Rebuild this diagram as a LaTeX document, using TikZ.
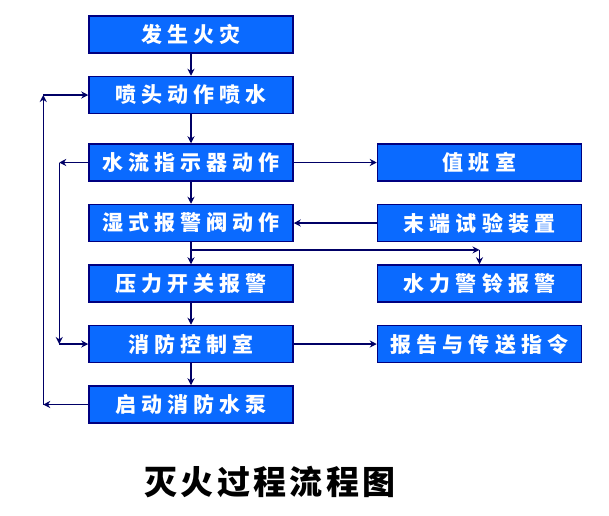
\documentclass[tikz,border=0pt]{standalone}
\usepackage{fontspec}
\setmainfont{Noto Sans CJK SC}
\newfontfamily\boxfont[LetterSpace=24]{Noto Sans CJK SC}
\newfontfamily\titlefont[LetterSpace=10]{Noto Sans CJK SC}
\usetikzlibrary{arrows.meta,positioning,calc}
\definecolor{boxblue}{HTML}{0A6AFF}
\definecolor{boxline}{HTML}{000080}
\definecolor{arrnavy}{HTML}{000066}

\begin{document}
\begin{tikzpicture}[x=1pt, y=-1pt,
  node distance=22pt and 83pt,
  box/.style={draw=boxline, line width=1.5pt, fill=boxblue, minimum width=204pt, minimum height=37pt, inner sep=0pt, text=white, font=\boxfont\bfseries\fontsize{21}{24}\selectfont},
  arr/.style={-{Stealth[length=7pt,width=7pt]}, line width=1.2pt, draw=arrnavy},
]
  \useasboundingbox (0,0) rectangle (609,515);

  % main chain
  \node[box] (fire) at (191,34.5) {发生火灾};
  \node[box, below=of fire] (spray) {喷头动作喷水};
  \node[box, below=29pt of spray] (flow) {水流指示器动作};
  \node[box, below=of flow] (valve) {湿式报警阀动作};
  \node[box, below=of valve] (press) {压力开关报警};
  \node[box, below=of press] (ctrl) {消防控制室};
  \node[box, below=of ctrl] (pump) {启动消防水泵};

  % right column
  \node[box, right=of flow] (duty) {值班室};
  \node[box, right=of valve] (test) {末端试验装置};
  \node[box, right=of press] (bell) {水力警铃报警};
  \node[box, right=of ctrl] (report) {报告与传送指令};

  \node[font=\titlefont\bfseries\fontsize{33}{36}\selectfont] (title) at (270,482) {灭火过程流程图};

  \draw[arr] (fire) -- (spray);
  \draw[arr] (spray) -- (flow);
  \draw[arr] (flow) -- (valve);
  \draw[arr] (valve) -- (press);
  \draw[arr] (press) -- (ctrl);
  \draw[arr] (ctrl) -- (pump);

  \draw[arr] (flow) -- (duty);
  \draw[arr] (test) -- (valve);
  \draw[arr] (ctrl) -- (report);

  % branch to the bell
  \coordinate (j) at ($(valve.south)!0.35!(press.north)$);
  \coordinate (k) at (j -| bell.north);
  \draw[arr] (j) -- (k);
  \draw[arr] (k) -- (bell);

  % loops on the left
  \coordinate (ob) at ($(pump.west)+(-45,0)$);
  \coordinate (ot) at (ob |- spray.west);
  \draw[arr] (pump.west) -- (ob);
  \draw[arr] (ob) -- (ot);
  \draw[arr] (ot) -- (spray.west);

  \coordinate (ia) at ($(flow.west)+(-29,0)$);
  \coordinate (ic) at (ia |- ctrl.west);
  \draw[arr] (flow.west) -- (ia);
  \draw[arr] (ia) -- (ic);
  \draw[arr] (ic) -- (ctrl.west);
\end{tikzpicture}
\end{document}
